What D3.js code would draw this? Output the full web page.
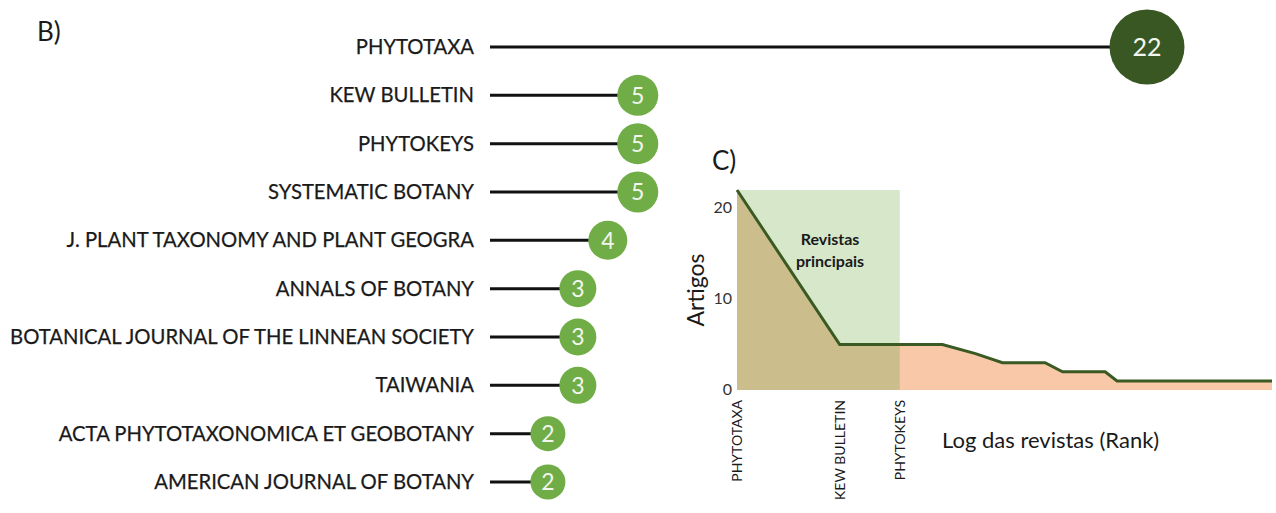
<!DOCTYPE html>
<html>
<head>
<meta charset="utf-8">
<script src="https://cdn.jsdelivr.net/npm/d3@7"></script>
<style>
  body { margin: 0; background: #fff; }
  svg { display: block; font-family: Lato, "Open Sans", sans-serif; }
</style>
</head>
<body>
<svg id="chart" width="1276" height="513"></svg>
<script>
// Panel B: top journals
const journals = [
  "PHYTOTAXA",
  "KEW BULLETIN",
  "PHYTOKEYS",
  "SYSTEMATIC BOTANY",
  "J. PLANT TAXONOMY AND PLANT GEOGRA",
  "ANNALS OF BOTANY",
  "BOTANICAL JOURNAL OF THE LINNEAN SOCIETY",
  "TAIWANIA",
  "ACTA PHYTOTAXONOMICA ET GEOBOTANY",
  "AMERICAN JOURNAL OF BOTANY"
];
const artigos = [22, 5, 5, 5, 4, 3, 3, 3, 2, 2];

// Panel C: articles per journal by rank (log)
const rankValues = [22, 5, 5, 5, 4, 3, 3, 3, 2, 2, 2, 2,
  1, 1, 1, 1, 1, 1, 1, 1, 1, 1, 1, 1, 1, 1, 1, 1, 1, 1, 1, 1, 1, 1, 1, 1, 1];
const rankLabels = ["PHYTOTAXA", "KEW BULLETIN", "PHYTOKEYS"];
const yTicks = [0, 10, 20];

const colors = {
  stem: "#111",
  dot: "#70ad47",
  dotTop: "#385723",
  box: "#d6e8c9",
  areaIn: "#cbbd8c",
  areaOut: "#f8c8a8",
  line: "#3b5a23",
  text: "#1a1a1a"
};

const svg = d3.select("#chart");

// ---------- Panel B ----------
svg.append("text").attr("x", 37).attr("y", 41)
  .attr("font-size", 26).attr("fill", colors.text).text("B)");

const x = d3.scaleLinear().domain([0, 22]).range([488, 1147]);
const y = d3.scalePoint().domain(journals).range([47, 482]);
const r = d3.scaleLinear().domain([2, 22]).range([17.5, 37.5]);

const rows = svg.append("g").selectAll("g")
  .data(journals.map((j, i) => ({ name: j, value: artigos[i] })))
  .enter().append("g")
  .attr("transform", d => `translate(0,${y(d.name)})`);

rows.append("line")
  .attr("x1", 490).attr("x2", d => x(d.value))
  .attr("stroke", colors.stem).attr("stroke-width", 3);

const labels = rows.append("text")
  .attr("x", 474).attr("dy", "0.35em")
  .attr("text-anchor", "end")
  .attr("font-size", 20)
  .attr("fill", colors.text)
  .attr("stroke", colors.text).attr("stroke-width", 0.25)
  .text(d => d.name);

// fit the longest label to the reference width
const longest = d3.max(labels.nodes(), n => n.getComputedTextLength());
labels.attr("font-size", 20 * 464 / longest);

rows.append("circle")
  .attr("cx", d => x(d.value)).attr("r", d => r(d.value))
  .attr("fill", d => d.value > 10 ? colors.dotTop : colors.dot);

rows.append("text")
  .attr("x", d => x(d.value)).attr("dy", "0.36em")
  .attr("text-anchor", "middle")
  .attr("font-size", d => d.value > 10 ? 25 : 23)
  .attr("fill", "#f2f6ee")
  .text(d => d.value);

// ---------- Panel C ----------
svg.append("text").attr("x", 712).attr("y", 170)
  .attr("font-size", 26).attr("fill", colors.text).text("C)");

const xr = d3.scaleLog().domain([1, rankValues.length]).range([737, 1272]);
const yr = d3.scaleLinear().domain([0, 22]).range([390, 190]);
const pts = rankValues.map((v, i) => ({ rank: i + 1, value: v }));

const defs = svg.append("defs");
defs.append("clipPath").attr("id", "inBox")
  .append("rect")
  .attr("x", xr(1)).attr("y", yr(22))
  .attr("width", xr(3) - xr(1)).attr("height", yr(0) - yr(22));

svg.append("rect")
  .attr("x", xr(1)).attr("y", yr(22))
  .attr("width", xr(3) - xr(1)).attr("height", yr(0) - yr(22))
  .attr("fill", colors.box);

const area = d3.area().x(d => xr(d.rank)).y0(yr(0)).y1(d => yr(d.value));
svg.append("path").datum(pts).attr("d", area).attr("fill", colors.areaOut);
svg.append("path").datum(pts).attr("d", area).attr("fill", colors.areaIn)
  .attr("clip-path", "url(#inBox)");

svg.append("path").datum(pts)
  .attr("d", d3.line().x(d => xr(d.rank)).y(d => yr(d.value)))
  .attr("fill", "none").attr("stroke", colors.line).attr("stroke-width", 3);

svg.append("g").selectAll("text").data(yTicks).enter().append("text")
  .attr("x", 732).attr("y", d => yr(d)).attr("dy", "0.3em")
  .attr("text-anchor", "end").attr("font-size", 16).attr("fill", "#333")
  .text(d => d);

svg.append("text")
  .attr("transform", "translate(704,290) rotate(-90)")
  .attr("text-anchor", "middle").attr("font-size", 23).attr("fill", colors.text)
  .text("Artigos");

svg.append("g").selectAll("text").data(rankLabels).enter().append("text")
  .attr("transform", (d, i) => `translate(${xr(i + 1)},400) rotate(-90)`)
  .attr("dy", "0.35em")
  .attr("text-anchor", "end").attr("font-size", 14).attr("fill", colors.text)
  .text(d => d);

svg.append("text").attr("x", 830).attr("y", 245)
  .attr("text-anchor", "middle").attr("font-size", 16).attr("font-weight", "bold")
  .attr("fill", colors.text)
  .selectAll("tspan").data(["Revistas", "principais"]).enter().append("tspan")
  .attr("x", 830).attr("dy", (d, i) => i ? 22 : 0).text(d => d);

svg.append("text").attr("x", 942).attr("y", 448)
  .attr("font-size", 22).attr("fill", colors.text)
  .text("Log das revistas (Rank)");
</script>
</body>
</html>
